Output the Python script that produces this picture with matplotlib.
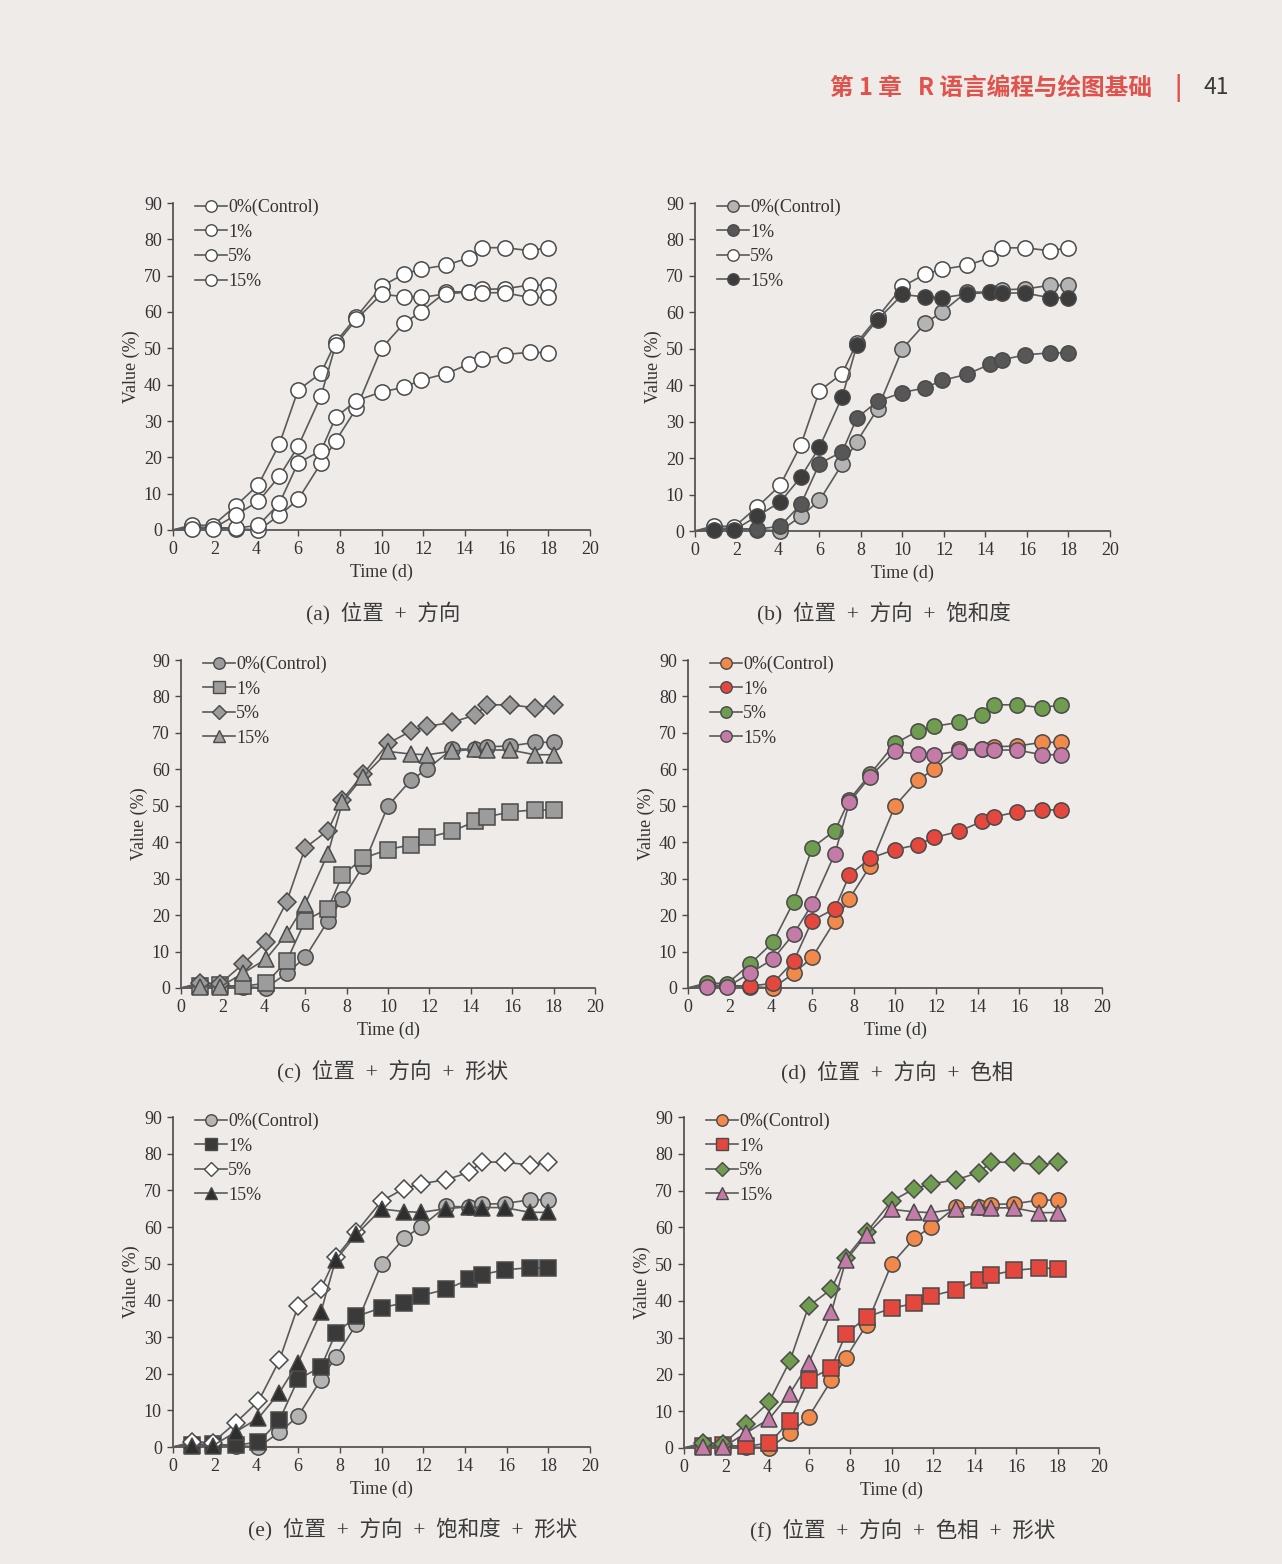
import matplotlib
matplotlib.use("Agg")
import matplotlib.pyplot as plt
from matplotlib.lines import Line2D

# ---------------- data ----------------
time_d = [0, 0.9, 1.9, 3.0, 4.1, 5.1, 6.0, 7.1, 7.8, 8.8, 10.0, 11.1, 11.9, 13.1, 14.2, 14.8, 15.9, 17.1, 18.0]
control = [0, 1.0, 0.5, 0.4, 0.0, 4.0, 8.4, 18.4, 24.5, 33.5, 50.0, 57.0, 60.1, 65.6, 65.5, 66.2, 66.4, 67.4, 67.4]
pct1 = [0, 0.5, 0.7, 0.5, 1.3, 7.3, 18.5, 21.8, 31.0, 35.6, 38.0, 39.3, 41.3, 43.0, 45.7, 47.0, 48.3, 48.9, 48.8]
pct5 = [0, 1.4, 1.2, 6.6, 12.5, 23.6, 38.5, 43.2, 51.7, 58.7, 67.1, 70.5, 71.8, 72.9, 74.9, 77.7, 77.7, 76.9, 77.7]
pct15 = [0, 0.4, 0.3, 4.1, 7.9, 14.8, 23.0, 36.9, 51.0, 58.0, 64.9, 64.2, 64.0, 65.0, 65.5, 65.3, 65.3, 64.0, 64.0]
series_labels = ["0%(Control)", "1%", "5%", "15%"]
series_values = [control, pct1, pct5, pct15]

panel_captions = ["(a)  位置  +  方向", "(b)  位置  +  方向  +  饱和度", "(c)  位置  +  方向  +  形状",
                  "(d)  位置  +  方向  +  色相", "(e)  位置  +  方向  +  饱和度  +  形状",
                  "(f)  位置  +  方向  +  色相  +  形状"]
x_ticks = [0, 2, 4, 6, 8, 10, 12, 14, 16, 18, 20]
y_ticks = [0, 10, 20, 30, 40, 50, 60, 70, 80, 90]

# ---------------- styles ----------------
W, H = 1282, 1564
BG = "#efebe8"
EDGE = "#4a4a4a"
LINE = "#5a5a5a"
ORANGE, RED, GREEN, PINK = "#f0894a", "#e4473e", "#6f9c4e", "#c57ba8"

styles = [
    [("o", "white"), ("o", "white"), ("o", "white"), ("o", "white")],
    [("o", "#b4b4b4"), ("o", "#575757"), ("o", "white"), ("o", "#3c3c3c")],
    [("o", "#9c9c9c"), ("s", "#9c9c9c"), ("D", "#9c9c9c"), ("^", "#9c9c9c")],
    [("o", ORANGE), ("o", RED), ("o", GREEN), ("o", PINK)],
    [("o", "#b4b4b4"), ("s", "#3a3a3a"), ("D", "white"), ("^", "#2e2e2e")],
    [("o", ORANGE), ("s", RED), ("D", GREEN), ("^", PINK)],
]

# pixel boxes: x0, x20, y0, y90
boxes = [
    (173, 590, 530, 203),
    (695, 1110, 531, 203),
    (181, 595, 988, 660),
    (688, 1102, 988, 660),
    (173, 590, 1447, 1117),
    (684, 1099, 1448, 1117),
]
cap_pos = [(383, 613), (884, 613), (393, 1071), (897, 1072), (413, 1529), (903, 1530)]

SERIF = ["Liberation Serif", "DejaVu Serif"]
CJK = ["Liberation Serif", "Noto Sans CJK SC", "DejaVu Sans"]

fig = plt.figure(figsize=(W / 100, H / 100), dpi=100)
fig.patch.set_facecolor(BG)

for i, (x0, x20, y0, y90) in enumerate(boxes):
    ax = fig.add_axes([x0 / W, 1 - y0 / H, (x20 - x0) / W, (y0 - y90) / H])
    ax.set_facecolor("none")
    ax.set_xlim(0, 20)
    ax.set_ylim(0, 90)
    for s in ["top", "right"]:
        ax.spines[s].set_visible(False)
    for s in ["left", "bottom"]:
        ax.spines[s].set_color(EDGE)
        ax.spines[s].set_linewidth(1.2)
    ax.set_xticks(x_ticks)
    ax.set_yticks(y_ticks)
    ax.tick_params(direction="out", length=4, width=1, color=EDGE, labelcolor="#333333",
                   labelsize=13, pad=4)
    for lab in ax.get_xticklabels() + ax.get_yticklabels():
        lab.set_fontfamily(SERIF)
    ax.set_xlabel("Time (d)", family=SERIF, fontsize=13, color="#333333", labelpad=4)
    ax.set_ylabel("Value (%)", family=SERIF, fontsize=13, color="#333333", labelpad=3)

    handles = []
    for j, (vals, lab) in enumerate(zip(series_values, series_labels)):
        mk, fc = styles[i][j]
        ms = 11 if mk in ("o", "s") else (9 if mk == "D" else 12)
        ax.plot(time_d, vals, color=LINE, lw=1.2, marker=mk, markersize=ms,
                markerfacecolor=fc, markeredgecolor=EDGE, markeredgewidth=1.1,
                markevery=slice(1, None), clip_on=False, zorder=3 + j)
        handles.append(Line2D([0], [0], color=LINE, lw=1.2, marker=mk,
                              markersize=ms * 0.75, markerfacecolor=fc,
                              markeredgecolor=EDGE, markeredgewidth=1.0))
    leg = ax.legend(handles, series_labels, loc="upper left", bbox_to_anchor=(0.035, 1.035),
                    frameon=False, handlelength=1.8, handletextpad=0.05, labelspacing=0.42,
                    borderaxespad=0.0, prop={"family": SERIF, "size": 13})
    for t in leg.get_texts():
        t.set_color("#333333")

    cx, cy = cap_pos[i]
    fig.text(cx / W, 1 - cy / H, panel_captions[i], ha="center", va="center",
             family=CJK, fontsize=15.5, color="#3a3a3a")

# header
HF = ["Noto Sans CJK SC", "DejaVu Sans"]
fig.text(1152 / W, 1 - 88 / H, "第 1 章   R 语言编程与绘图基础", ha="right", va="center",
         family=HF, fontsize=17, color="#e0524c", fontweight="bold")
fig.text(1178 / W, 1 - 88 / H, "|", ha="center", va="center",
         family=HF, fontsize=18, color="#e0524c", fontweight="bold")
fig.text(1203 / W, 1 - 88 / H, "41", ha="left", va="center",
         family=HF, fontsize=16.5, color="#3a3a3a")

fig.savefig("out.png", dpi=100, facecolor=BG)
